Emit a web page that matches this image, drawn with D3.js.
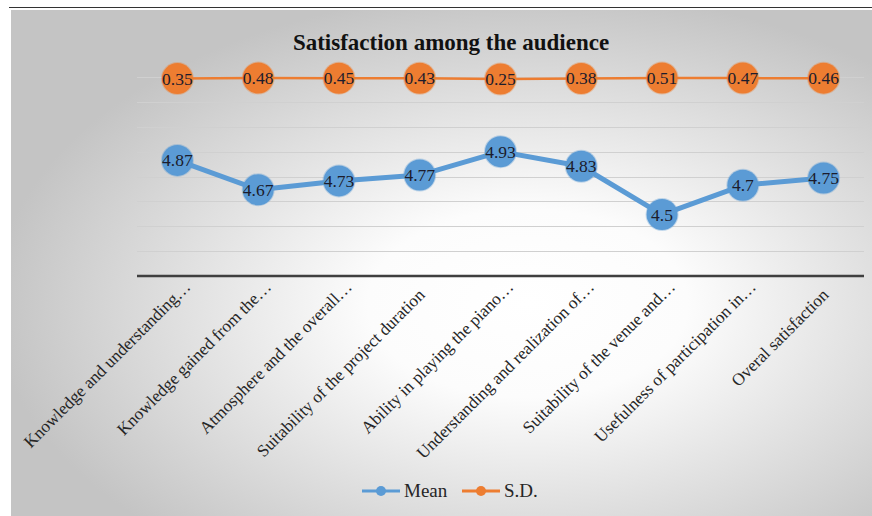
<!DOCTYPE html>
<html>
<head>
<meta charset="utf-8">
<script src="https://cdn.jsdelivr.net/npm/d3@7"></script>
<style>
  html, body { margin: 0; padding: 0; background: #fff; }
  svg { display: block; }
  svg text { font-family: "Liberation Serif", "DejaVu Serif", serif; }
</style>
</head>
<body>
<div id="chart"></div>
<script>
// chart values
var categories = [
  "Knowledge and understanding\u2026",
  "Knowledge gained from the\u2026",
  "Atmosphere and the overall\u2026",
  "Suitability of the project duration",
  "Ability in playing the piano\u2026",
  "Understanding and realization of\u2026",
  "Suitability of the venue and\u2026",
  "Usefulness of participation in\u2026",
  "Overal satisfaction"
];
var meanValues = [4.87, 4.67, 4.73, 4.77, 4.93, 4.83, 4.5, 4.7, 4.75];
var sdValues = [0.35, 0.48, 0.45, 0.43, 0.25, 0.38, 0.51, 0.47, 0.46];
var seriesNames = ["Mean", "S.D."];
var seriesColors = ["#5b9bd5", "#ed7d31"];

var W = 872, H = 516;
var plot = { left: 137, right: 864, top: 77, bottom: 276 };
var serif = "'Liberation Serif', 'DejaVu Serif', serif";

var svg = d3.select("#chart").append("svg")
  .attr("width", W)
  .attr("height", H);

// background panel with the grey-to-white radial fill
var defs = svg.append("defs");
var grad = defs.append("radialGradient")
  .attr("id", "bg")
  .attr("cx", "0.6").attr("cy", "0.58").attr("r", "0.62")
  .attr("gradientUnits", "objectBoundingBox");
grad.append("stop").attr("offset", "0").attr("stop-color", "#ffffff");
grad.append("stop").attr("offset", "0.3").attr("stop-color", "#fcfcfc");
grad.append("stop").attr("offset", "1").attr("stop-color", "#c4c4c4");

svg.append("line")
  .attr("x1", 9).attr("x2", W).attr("y1", 7.5).attr("y2", 7.5)
  .style("stroke", "#333").style("stroke-width", 1.2);
svg.append("rect")
  .attr("x", 11).attr("y", 10).attr("width", W - 11).attr("height", H - 10)
  .attr("fill", "url(#bg)");

// scales
var x = d3.scalePoint().domain(categories)
  .range([plot.left, plot.right]).padding(0.5);

// Mean sits on the (hidden) primary axis
var yMin = 4.08, yStep = 0.17, yTicks = 8;
var y = d3.scaleLinear().domain([yMin, yMin + yStep * yTicks])
  .range([plot.bottom, plot.top]);

// S.D. sits on its own compressed secondary axis, pinned to the top row
var y2 = d3.scaleLinear().domain([0, 1]).range([80, 76]);

// gridlines
svg.append("g").selectAll("line")
  .data(d3.range(1, yTicks + 1).map(function(k){ return yMin + k * yStep; }))
  .enter().append("line")
  .attr("x1", plot.left).attr("x2", plot.right)
  .attr("y1", function(d){ return Math.round(y(d)) + 0.5; })
  .attr("y2", function(d){ return Math.round(y(d)) + 0.5; })
  .style("stroke", "#d0d0d0").style("stroke-width", 1.2);

// x axis line
svg.append("line")
  .attr("x1", plot.left).attr("x2", plot.right)
  .attr("y1", plot.bottom).attr("y2", plot.bottom)
  .style("stroke", "#3f3f3f").style("stroke-width", 2.5);

// category labels, rotated; truncated ones (with the ellipsis) sit a bit further up the diagonal
svg.append("g").selectAll("text")
  .data(categories)
  .enter().append("text")
  .attr("transform", function(d){
    var cut = d.slice(-1) === "\u2026";
    var dx = cut ? 14 : 6, dy = cut ? 12 : 20;
    return "translate(" + (x(d) + dx) + "," + (plot.bottom + dy) + ") rotate(-45)";
  })
  .attr("text-anchor", "end")
  .style("font-family", serif)
  .style("font-size", "17.2px")
  .style("fill", "#262626")
  .text(function(d){ return d; });

// title
svg.append("text")
  .attr("x", 451).attr("y", 50)
  .attr("text-anchor", "middle")
  .style("font-family", serif)
  .style("font-size", "23px")
  .style("font-weight", "bold")
  .style("fill", "#111")
  .text("Satisfaction among the audience");

var series = [
  { name: seriesNames[1], color: seriesColors[1], values: sdValues, scale: y2, width: 2.5 },
  { name: seriesNames[0], color: seriesColors[0], values: meanValues, scale: y, width: 5 }
];

series.forEach(function(s){
  var pts = s.values.map(function(v, i){ return { cat: categories[i], v: v }; });
  var line = d3.line()
    .x(function(d){ return x(d.cat); })
    .y(function(d){ return s.scale(d.v); });
  var g = svg.append("g");
  g.append("path")
    .datum(pts)
    .attr("d", line)
    .style("fill", "none")
    .style("stroke", s.color)
    .style("stroke-width", s.width)
    .style("stroke-linejoin", "round");
  g.selectAll("circle")
    .data(pts)
    .enter().append("circle")
    .attr("cx", function(d){ return x(d.cat); })
    .attr("cy", function(d){ return s.scale(d.v); })
    .attr("r", 15.5)
    .style("fill", s.color)
    .style("stroke", s.color)
    .style("stroke-opacity", 0.35)
    .style("stroke-width", 2);
  g.selectAll("text")
    .data(pts)
    .enter().append("text")
    .attr("x", function(d){ return x(d.cat); })
    .attr("y", function(d){ return s.scale(d.v) + 6; })
    .attr("text-anchor", "middle")
    .style("font-family", serif)
    .style("font-size", "17.5px")
    .style("fill", "#1c1c2c")
    .text(function(d){ return d.v; });
});

// legend
var legend = svg.append("g").attr("transform", "translate(362,491)");
seriesNames.forEach(function(name, i){
  var lg = legend.append("g").attr("transform", "translate(" + (i * 100) + ",0)");
  lg.append("line")
    .attr("x1", 0).attr("x2", 38).attr("y1", 0).attr("y2", 0)
    .style("stroke", seriesColors[i]).style("stroke-width", 3);
  lg.append("circle")
    .attr("cx", 19).attr("cy", 0).attr("r", 5)
    .style("fill", seriesColors[i]);
  lg.append("text")
    .attr("x", 42).attr("y", 6)
    .style("font-family", serif)
    .style("font-size", "19px")
    .style("fill", "#262626")
    .text(name);
});
</script>
</body>
</html>
